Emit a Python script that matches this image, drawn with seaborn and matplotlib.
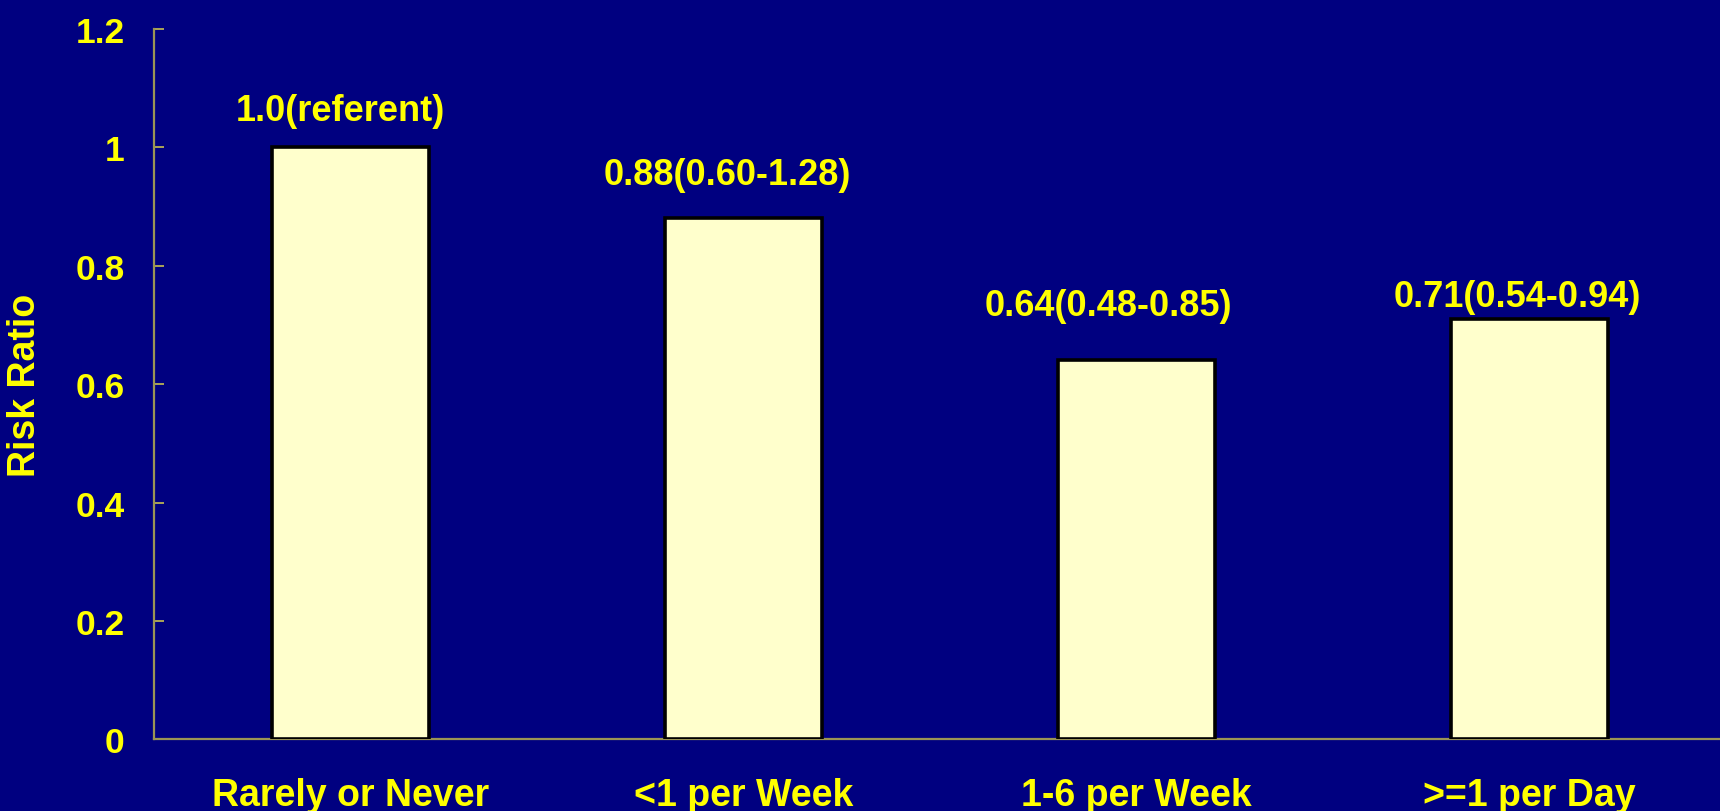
import matplotlib
matplotlib.use("Agg")
import matplotlib.pyplot as plt
import seaborn as sns
import pandas as pd
from matplotlib.ticker import FuncFormatter

categories = ["Rarely or Never", "<1 per Week", "1-6 per Week", ">=1 per Day"]
risk_ratio = [1.0, 0.88, 0.64, 0.71]
value_labels = ["1.0(referent)", "0.88(0.60-1.28)", "0.64(0.48-0.85)", "0.71(0.54-0.94)"]
y_ticks = [0, 0.2, 0.4, 0.6, 0.8, 1.0, 1.2]

# label placement offsets (style, not data)
label_dx = [-0.025, -0.04, -0.07, -0.03]
label_dy = [0.061, 0.074, 0.092, 0.037]

BG = "#000080"
YEL = "#FFFF00"
BAR = "#FFFFCC"
SPINE = "#9A9455"

sns.set_style("white")
plt.rcParams["font.family"] = ["Liberation Sans", "DejaVu Sans"]
plt.rcParams["font.weight"] = "bold"

df = pd.DataFrame({"cat": categories, "rr": risk_ratio})

fig = plt.figure(figsize=(17.2, 8.12), dpi=100, facecolor=BG)
ax = fig.add_axes([0.0893, 0.0881, 0.9142, 0.8754])
ax.set_facecolor(BG)

sns.barplot(data=df, x="cat", y="rr", color=BAR, saturation=1,
            edgecolor="black", linewidth=2.6, width=0.40, ax=ax, zorder=3)

ax.set_xlim(-0.5, 3.5)
ax.set_ylim(0, 1.2)
ax.set_yticks(y_ticks)
ax.yaxis.set_major_formatter(FuncFormatter(lambda v, p: "%g" % v))

for s in ["top", "right"]:
    ax.spines[s].set_visible(False)
for s in ["left", "bottom"]:
    ax.spines[s].set_color(SPINE)
    ax.spines[s].set_linewidth(1.6)

ax.tick_params(axis="y", direction="in", length=7, width=1.2, color="#C8C050",
               labelsize=25.5, labelcolor=YEL, pad=21, left=True)
ax.tick_params(axis="x", length=0, labelsize=27, labelcolor=YEL, pad=27)
for t in ax.get_xticklabels() + ax.get_yticklabels():
    t.set_fontweight("bold")

ax.set_xlabel("")
ax.set_ylabel("Risk Ratio", color=YEL, fontsize=27, fontweight="bold")
ax.yaxis.set_label_coords(-0.0703, 0.5)

for i, (v, lab) in enumerate(zip(risk_ratio, value_labels)):
    ax.text(i + label_dx[i], v + label_dy[i], lab, ha="center", va="center",
            color=YEL, fontsize=26, fontweight="bold", zorder=4)

fig.savefig("out.png", dpi=100, facecolor=BG)
